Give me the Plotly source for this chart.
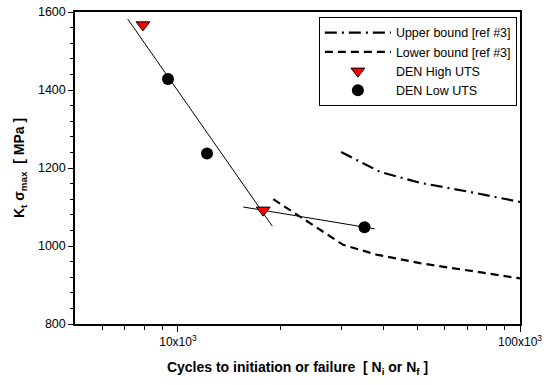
import plotly.graph_objects as go
import math

# Data
high_uts_x = [7900, 17750]
high_uts_y = [1567, 1092]
low_uts_x = [9350, 12160, 35100]
low_uts_y = [1428, 1237, 1048]

fit1_x = [7130, 18870]
fit1_y = [1582, 1051]
fit2_x = [15520, 37600]
fit2_y = [1100, 1044]

upper_x = [30000, 39000, 51000, 71000, 100000]
upper_y = [1241, 1190, 1162, 1139, 1113]
lower_x = [19000, 30400, 38000, 51000, 100000]
lower_y = [1120, 1003, 978, 956, 917]

x_tickvals = [10000, 100000]
x_ticktext = ["10x10<sup>3</sup>", "100x10<sup>3</sup>"]
x_minor = [6000, 7000, 8000, 9000, 20000, 30000, 40000, 50000, 60000, 70000, 80000, 90000]

font = "Liberation Sans, Arial, sans-serif"

fig = go.Figure()
fig.add_trace(go.Scatter(x=upper_x, y=upper_y, mode="lines", name="Upper bound [ref #3]",
                         line=dict(color="black", width=2.2, dash="12px,5px,2px,5px")))
fig.add_trace(go.Scatter(x=lower_x, y=lower_y, mode="lines", name="Lower bound [ref #3]",
                         line=dict(color="black", width=2.2, dash="8px,5px")))
fig.add_trace(go.Scatter(x=fit1_x, y=fit1_y, mode="lines", showlegend=False,
                         line=dict(color="black", width=1)))
fig.add_trace(go.Scatter(x=fit2_x, y=fit2_y, mode="lines", showlegend=False,
                         line=dict(color="black", width=1)))
fig.add_trace(go.Scatter(x=high_uts_x, y=high_uts_y, mode="markers", name="DEN High UTS",
                         marker=dict(symbol="triangle-down", size=12, color="red",
                                     line=dict(color="black", width=1))))
fig.add_trace(go.Scatter(x=low_uts_x, y=low_uts_y, mode="markers", name="DEN Low UTS",
                         marker=dict(symbol="circle", size=12, color="black",
                                     line=dict(color="black", width=0))))

fig.update_layout(
    width=550, height=385,
    margin=dict(l=75, r=30, t=12, b=61),
    plot_bgcolor="white", paper_bgcolor="white",
    font=dict(family=font, size=12, color="black"),
    legend=dict(x=0.993, y=0.984, xanchor="right", yanchor="top",
                bgcolor="white", bordercolor="black", borderwidth=1,
                font=dict(size=12.5), itemwidth=66, tracegroupgap=0),
    xaxis=dict(type="log", range=[math.log10(5000), 5], automargin=False,
               tickmode="array", tickvals=x_tickvals, ticktext=x_ticktext,
               tickfont=dict(size=12), ticklabeloverflow="allow",
               ticks="outside", ticklen=6, tickwidth=1, tickcolor="black",
               minor=dict(tickmode="array", tickvals=x_minor, ticks="outside",
                          ticklen=4, tickcolor="black"),
               showline=True, linecolor="black", linewidth=1.5, mirror=True,
               showgrid=False, zeroline=False,
               title=dict(text="<b>Cycles to initiation or failure  [ N<sub>i</sub> or N<sub>f</sub> ]</b>",
                          font=dict(size=14), standoff=14)),
    yaxis=dict(range=[800, 1600], tickmode="linear", tick0=800, dtick=200, automargin=False,
               ticklabeloverflow="allow", tickfont=dict(size=12.5),
               ticks="outside", ticklen=5, tickwidth=1, tickcolor="black",
               minor=dict(dtick=40, ticks="outside", ticklen=3, tickcolor="black"),
               showline=True, linecolor="black", linewidth=1.5, mirror=True,
               showgrid=False, zeroline=False,
               title=dict(text="<b>K<sub>t</sub> σ<sub>max</sub>  [ MPa ]</b>",
                          font=dict(size=14), standoff=10)),
)

fig.write_html("out.html", config={"displayModeBar": False},
               post_script="document.body.style.margin='0px';document.body.style.overflow='hidden';")
